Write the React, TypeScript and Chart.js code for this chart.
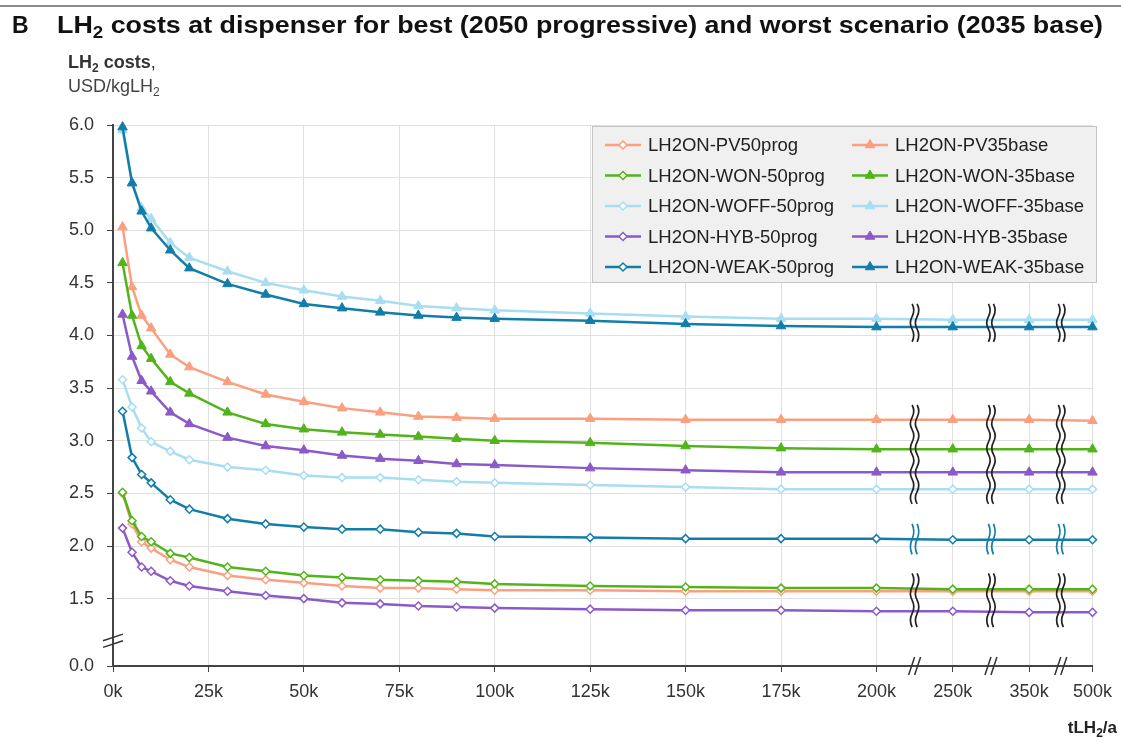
import { useEffect, useRef } from 'react';
import { Chart, registerables } from 'chart.js';

Chart.register(...registerables);

const FONT = "'Liberation Sans', Arial, Helvetica, sans-serif";

// x positions of the data points, in thousand tLH2/a
const X_VALUES_K = [2.5, 5, 7.5, 10, 15, 20, 30, 40, 50, 60, 70, 80, 90, 100, 125, 150, 175, 200, 250, 350, 500];
const X_TICK_VALUES_K = [0, 25, 50, 75, 100, 125, 150, 175, 200, 250, 350, 500];
const X_TICK_LABELS = ['0k', '25k', '50k', '75k', '100k', '125k', '150k', '175k', '200k', '250k', '350k', '500k'];
// broken x-axis: linear up to 200k, then compressed steps
const X_TAIL_VALUES_K = [200, 250, 350, 500];
const X_TAIL_AXIS = [200, 220, 240, 256.6];

const Y_TICK_VALUES = [1.5, 2.0, 2.5, 3.0, 3.5, 4.0, 4.5, 5.0, 5.5, 6.0];
const Y_MAX = 6.0;
const Y_ZERO_AXIS_POS = 0.86; // broken y-axis: where the "0.0" label sits
const Y_BREAK_POS = 1.1;

const PV50prog = [2.50, 2.21, 2.04, 1.98, 1.87, 1.80, 1.72, 1.68, 1.65, 1.62, 1.60, 1.60, 1.59, 1.58, 1.58, 1.57, 1.57, 1.57, 1.57, 1.57, 1.57];
const WON50prog = [2.51, 2.24, 2.09, 2.04, 1.93, 1.89, 1.80, 1.76, 1.72, 1.70, 1.68, 1.67, 1.66, 1.64, 1.62, 1.61, 1.60, 1.60, 1.59, 1.59, 1.59];
const WOFF50prog = [3.58, 3.32, 3.12, 2.99, 2.90, 2.82, 2.75, 2.72, 2.67, 2.65, 2.65, 2.63, 2.61, 2.60, 2.58, 2.56, 2.54, 2.54, 2.54, 2.54, 2.54];
const HYB50prog = [2.17, 1.94, 1.80, 1.76, 1.67, 1.62, 1.57, 1.53, 1.50, 1.46, 1.45, 1.43, 1.42, 1.41, 1.40, 1.39, 1.39, 1.38, 1.38, 1.37, 1.37];
const WEAK50prog = [3.28, 2.84, 2.68, 2.60, 2.44, 2.35, 2.26, 2.21, 2.18, 2.16, 2.16, 2.13, 2.12, 2.09, 2.08, 2.07, 2.07, 2.07, 2.06, 2.06, 2.06];
const PV35base = [5.03, 4.46, 4.19, 4.07, 3.82, 3.70, 3.56, 3.44, 3.37, 3.31, 3.27, 3.23, 3.22, 3.21, 3.21, 3.20, 3.20, 3.20, 3.20, 3.20, 3.19];
const WON35base = [4.69, 4.19, 3.90, 3.78, 3.56, 3.45, 3.27, 3.16, 3.11, 3.08, 3.06, 3.04, 3.02, 3.00, 2.98, 2.95, 2.93, 2.92, 2.92, 2.92, 2.92];
const WOFF35base = [5.95, 5.44, 5.21, 5.11, 4.88, 4.74, 4.61, 4.50, 4.43, 4.37, 4.33, 4.28, 4.26, 4.24, 4.21, 4.18, 4.16, 4.16, 4.15, 4.15, 4.15];
const HYB35base = [4.20, 3.80, 3.57, 3.47, 3.27, 3.16, 3.03, 2.95, 2.91, 2.86, 2.83, 2.81, 2.78, 2.77, 2.74, 2.72, 2.70, 2.70, 2.70, 2.70, 2.70];
const WEAK35base = [5.98, 5.45, 5.18, 5.02, 4.81, 4.64, 4.49, 4.39, 4.30, 4.26, 4.22, 4.19, 4.17, 4.16, 4.14, 4.11, 4.09, 4.08, 4.08, 4.08, 4.08];

const C_PV = '#FA9F7F';
const C_WON = '#52B41B';
const C_WOFF = '#A8DDF2';
const C_HYB = '#8C5AC8';
const C_WEAK = '#137DAA';

const SERIES_PROG = [
  { label: 'LH2ON-PV50prog', data: PV50prog, color: C_PV, z: 8 },
  { label: 'LH2ON-WON-50prog', data: WON50prog, color: C_WON, z: 7 },
  { label: 'LH2ON-WOFF-50prog', data: WOFF50prog, color: C_WOFF, z: 6 },
  { label: 'LH2ON-HYB-50prog', data: HYB50prog, color: C_HYB, z: 5 },
  { label: 'LH2ON-WEAK-50prog', data: WEAK50prog, color: C_WEAK, z: 4 },
];
const SERIES_BASE = [
  { label: 'LH2ON-PV35base', data: PV35base, color: C_PV, z: 9 },
  { label: 'LH2ON-WON-35base', data: WON35base, color: C_WON, z: 3 },
  { label: 'LH2ON-WOFF-35base', data: WOFF35base, color: C_WOFF, z: 2 },
  { label: 'LH2ON-HYB-35base', data: HYB35base, color: C_HYB, z: 1 },
  { label: 'LH2ON-WEAK-35base', data: WEAK35base, color: C_WEAK, z: 0 },
];

// groups of lines that get a wavy break mark at the x-axis breaks
const BREAK_GROUPS = [
  { members: ['LH2ON-WOFF-35base', 'LH2ON-WEAK-35base'], color: '#222' },
  { members: ['LH2ON-PV35base', 'LH2ON-WON-35base', 'LH2ON-HYB-35base', 'LH2ON-WOFF-50prog'], color: '#222' },
  { members: ['LH2ON-WEAK-50prog'], color: C_WEAK },
  { members: ['LH2ON-PV50prog', 'LH2ON-WON-50prog', 'LH2ON-HYB-50prog'], color: '#222' },
];
const BREAK_PAD = 0.14;

function toAxisX(k: number): number {
  if (k <= X_TAIL_VALUES_K[0]) return k;
  for (let i = 1; i < X_TAIL_VALUES_K.length; i++) {
    const a = X_TAIL_VALUES_K[i - 1];
    const b = X_TAIL_VALUES_K[i];
    if (k <= b) {
      const t = (k - a) / (b - a);
      return X_TAIL_AXIS[i - 1] + t * (X_TAIL_AXIS[i] - X_TAIL_AXIS[i - 1]);
    }
  }
  return X_TAIL_AXIS[X_TAIL_AXIS.length - 1];
}

function makeDataset(s: any, prog: boolean) {
  return {
    label: s.label,
    data: s.data.map((v: number, i: number) => ({ x: toAxisX(X_VALUES_K[i]), y: v })),
    borderColor: s.color,
    backgroundColor: prog ? '#ffffff' : s.color,
    pointBackgroundColor: prog ? '#ffffff' : s.color,
    pointBorderColor: s.color,
    pointStyle: prog ? 'rectRot' : 'triangle',
    pointRadius: prog ? 4 : 5.5,
    pointBorderWidth: prog ? 1.5 : 1,
    borderWidth: 2.5,
    tension: 0,
    clip: false,
    order: s.z,
  };
}

type Part = { t: string; bold?: boolean; sub?: boolean };

function drawRich(ctx: CanvasRenderingContext2D, parts: Part[], x: number, y: number, size: number, color: string, align: 'left' | 'right' = 'left', fitWidth = 0) {
  const fontOf = (p: Part) => `${p.bold ? 'bold ' : ''}${p.sub ? Math.round(size * 0.68) : size}px ${FONT}`;
  let total = 0;
  for (const p of parts) {
    ctx.font = fontOf(p);
    total += ctx.measureText(p.t).width;
  }
  const sx = fitWidth > 0 ? fitWidth / total : 1;
  ctx.save();
  const startX = align === 'right' ? x - total * sx : x;
  ctx.translate(startX, y);
  ctx.scale(sx, 1);
  let cx = 0;
  ctx.fillStyle = color;
  ctx.textAlign = 'left';
  ctx.textBaseline = 'alphabetic';
  for (const p of parts) {
    ctx.font = fontOf(p);
    ctx.fillText(p.t, cx, p.sub ? size * 0.22 : 0);
    cx += ctx.measureText(p.t).width;
  }
  ctx.restore();
}

function drawMarker(ctx: CanvasRenderingContext2D, prog: boolean, color: string, x: number, y: number) {
  ctx.save();
  ctx.strokeStyle = color;
  ctx.fillStyle = prog ? '#ffffff' : color;
  if (prog) {
    const r = 4;
    ctx.lineWidth = 1.5;
    ctx.beginPath();
    ctx.moveTo(x, y - r);
    ctx.lineTo(x + r, y);
    ctx.lineTo(x, y + r);
    ctx.lineTo(x - r, y);
    ctx.closePath();
    ctx.fill();
    ctx.stroke();
  } else {
    const r = 5.5;
    ctx.lineWidth = 1;
    ctx.beginPath();
    ctx.moveTo(x, y - r);
    ctx.lineTo(x + r * 0.866, y + r * 0.5);
    ctx.lineTo(x - r * 0.866, y + r * 0.5);
    ctx.closePath();
    ctx.fill();
    ctx.stroke();
  }
  ctx.restore();
}

function wavy(ctx: CanvasRenderingContext2D, x: number, y0: number, y1: number, amp: number, half: number) {
  const n = Math.max(2, Math.round((y1 - y0) / half));
  const step = (y1 - y0) / n;
  ctx.beginPath();
  ctx.moveTo(x, y0);
  for (let i = 0; i < n; i++) {
    const ya = y0 + i * step;
    const dir = i % 2 === 0 ? 1 : -1;
    ctx.quadraticCurveTo(x + dir * amp * 2, ya + step / 2, x, ya + step);
  }
  ctx.stroke();
}

const decorPlugin = {
  id: 'decor',
  beforeDraw(chart: any) {
    const ctx = chart.ctx as CanvasRenderingContext2D;
    ctx.save();
    ctx.fillStyle = '#ffffff';
    ctx.fillRect(0, 0, chart.width, chart.height);
    ctx.strokeStyle = '#666';
    ctx.lineWidth = 1.5;
    ctx.beginPath();
    ctx.moveTo(0, 6);
    ctx.lineTo(chart.width, 6);
    ctx.stroke();
    // panel title
    drawRich(ctx, [{ t: 'B', bold: true }], 12, 33, 23, '#111');
    drawRich(ctx, [
      { t: 'LH', bold: true },
      { t: '2', bold: true, sub: true },
      { t: ' costs at dispenser for best (2050 progressive) and worst scenario (2035 base)', bold: true },
    ], 57, 33, 23, '#111', 'left', 1046);
    // y axis title
    drawRich(ctx, [
      { t: 'LH', bold: true },
      { t: '2', bold: true, sub: true },
      { t: ' costs', bold: true },
      { t: ',' },
    ], 68, 68, 18, '#333');
    drawRich(ctx, [{ t: 'USD/kgLH' }, { t: '2', sub: true }], 68, 92, 18, '#444');
    // x axis title
    drawRich(ctx, [{ t: 'tLH', bold: true }, { t: '2', bold: true, sub: true }, { t: '/a', bold: true }], 1117, 733, 17, '#222', 'right');
    ctx.restore();
  },
  afterDatasetsDraw(chart: any) {
    const ctx = chart.ctx as CanvasRenderingContext2D;
    const xs = chart.scales.x;
    const ys = chart.scales.y;
    const area = chart.chartArea;
    ctx.save();
    // break positions: midway between tail ticks
    const breaks: number[] = [];
    for (let i = 1; i < X_TAIL_AXIS.length; i++) breaks.push(xs.getPixelForValue((X_TAIL_AXIS[i - 1] + X_TAIL_AXIS[i]) / 2));
    const tailIdx = X_VALUES_K.findIndex((v) => v >= X_TAIL_VALUES_K[0]);
    const all = [...SERIES_PROG, ...SERIES_BASE];
    ctx.lineWidth = 1.7;
    for (const g of BREAK_GROUPS) {
      let lo = Infinity;
      let hi = -Infinity;
      for (const m of g.members) {
        const s = all.find((q) => q.label === m)!;
        for (let i = tailIdx; i < s.data.length; i++) {
          lo = Math.min(lo, s.data[i]);
          hi = Math.max(hi, s.data[i]);
        }
      }
      const y0 = ys.getPixelForValue(hi + BREAK_PAD);
      const y1 = ys.getPixelForValue(lo - BREAK_PAD);
      ctx.strokeStyle = g.color;
      for (const bx of breaks) {
        wavy(ctx, bx - 2.5, y0, y1, 1.7, 13);
        wavy(ctx, bx + 2.5, y0, y1, 1.7, 13);
      }
    }
    // x-axis slashes
    ctx.strokeStyle = '#333';
    ctx.lineWidth = 1.5;
    const ay = area.bottom;
    for (const bx of breaks) {
      for (const off of [-3, 3]) {
        ctx.beginPath();
        ctx.moveTo(bx + off - 3, ay + 9);
        ctx.lineTo(bx + off + 3, ay - 9);
        ctx.stroke();
      }
    }
    // y-axis slashes
    const by = ys.getPixelForValue(Y_BREAK_POS);
    const ax = area.left;
    for (const off of [-3.3, 3.3]) {
      ctx.beginPath();
      ctx.moveTo(ax - 10, by + off + 3.3);
      ctx.lineTo(ax + 10, by + off - 3.3);
      ctx.stroke();
    }
    ctx.restore();
  },
  afterDraw(chart: any) {
    const ctx = chart.ctx as CanvasRenderingContext2D;
    ctx.save();
    const bx = 592;
    const by = 126;
    const bw = 505;
    const bh = 157;
    ctx.fillStyle = '#f0f0f0';
    ctx.fillRect(bx, by, bw, bh);
    ctx.strokeStyle = '#c4c4c4';
    ctx.lineWidth = 1;
    ctx.strokeRect(bx + 0.5, by + 0.5, bw - 1, bh - 1);
    const cols = [
      { list: SERIES_PROG, prog: true, lx: 605, tx: 648 },
      { list: SERIES_BASE, prog: false, lx: 852, tx: 895 },
    ];
    for (const c of cols) {
      c.list.forEach((s, i) => {
        const y = 145 + i * 30.5;
        ctx.strokeStyle = s.color;
        ctx.lineWidth = 2.5;
        ctx.beginPath();
        ctx.moveTo(c.lx, y);
        ctx.lineTo(c.lx + 36, y);
        ctx.stroke();
        drawMarker(ctx, c.prog, s.color, c.lx + 18, y);
        ctx.fillStyle = '#222';
        ctx.font = `18.5px ${FONT}`;
        ctx.textAlign = 'left';
        ctx.textBaseline = 'middle';
        ctx.fillText(s.label, c.tx, y + 1);
      });
    }
    ctx.restore();
  },
};

export default function App() {
  const ref = useRef<HTMLCanvasElement>(null);
  useEffect(() => {
    const datasets = [
      ...SERIES_PROG.map((s) => makeDataset(s, true)),
      ...SERIES_BASE.map((s) => makeDataset(s, false)),
    ];
    const tickFont = { family: FONT, size: 18 };
    const chart = new Chart(ref.current as HTMLCanvasElement, {
      type: 'line',
      data: { datasets: datasets as any },
      options: {
        animation: false,
        responsive: false,
        events: [],
        layout: { padding: { left: 0, top: 125, right: 25, bottom: 36 } },
        plugins: { legend: { display: false }, tooltip: { enabled: false }, title: { display: false } },
        scales: {
          x: {
            type: 'linear',
            min: 0,
            max: X_TAIL_AXIS[X_TAIL_AXIS.length - 1],
            afterBuildTicks: (s: any) => {
              s.ticks = X_TICK_VALUES_K.map((v) => ({ value: toAxisX(v) }));
            },
            afterFit: (s: any) => {
              s.height = 40;
            },
            ticks: {
              autoSkip: false,
              maxRotation: 0,
              padding: 9,
              color: '#333',
              font: tickFont,
              callback: (_v: any, i: number) => X_TICK_LABELS[i],
            },
            grid: { color: '#e0e0e0', lineWidth: 1, tickColor: '#444', tickLength: 6 },
            border: { color: '#444', width: 2 },
          },
          y: {
            type: 'linear',
            min: Y_ZERO_AXIS_POS,
            max: Y_MAX,
            afterBuildTicks: (s: any) => {
              s.ticks = [Y_ZERO_AXIS_POS, ...Y_TICK_VALUES].map((v) => ({ value: v }));
            },
            afterFit: (s: any) => {
              s.width = 113;
            },
            ticks: {
              padding: 13,
              color: '#333',
              font: tickFont,
              callback: (v: any) => (v < 1 ? '0.0' : Number(v).toFixed(1)),
            },
            grid: { color: '#e0e0e0', lineWidth: 1, tickColor: '#444', tickLength: 6 },
            border: { color: '#444', width: 2 },
          },
        },
      },
      plugins: [decorPlugin],
    });
    return () => chart.destroy();
  }, []);
  return (
    <div style={{ position: 'absolute', left: 0, top: 0, width: 1121, height: 742 }}>
      <canvas ref={ref} width={1121} height={742} style={{ display: 'block' }} />
    </div>
  );
}
